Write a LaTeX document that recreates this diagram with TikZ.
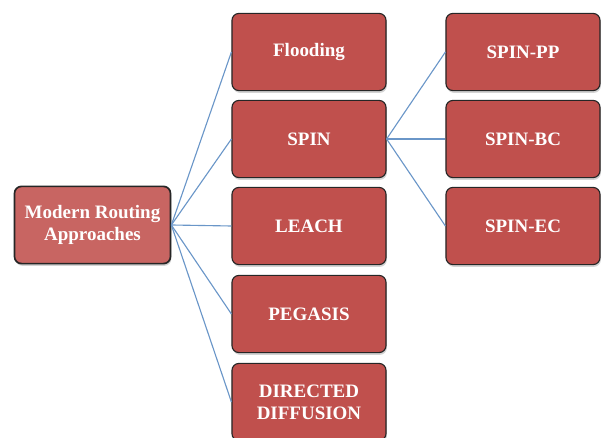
\documentclass[tikz,border=0pt]{standalone}
\usepackage{fontspec}
\setmainfont{Liberation Serif}
\usetikzlibrary{shadows}
\definecolor{boxred}{HTML}{C0504D}
\definecolor{linkblue}{HTML}{6A96C8}
\tikzset{
  rbox/.style={draw=black!85, line width=0.8pt, fill=boxred, rounded corners=5pt,
    minimum width=3.85cm, minimum height=1.93cm, text=white, align=center,
    font=\bfseries\fontsize{13.5}{15.5}\selectfont,
    drop shadow={shadow xshift=0.6pt, shadow yshift=-1.6pt, opacity=0.35}},
  link/.style={draw=linkblue, line width=0.8pt}
}
\begin{document}
\begin{tikzpicture}[x=0.025cm,y=-0.025cm]
\useasboundingbox (0,0) rectangle (601,438); % khung hinh
% Goc
\node[rbox, line width=1.2pt, fill=boxred!88!white, minimum width=3.9cm] (root) at (92.5,225) {Modern Routing\\Approaches};
% Cot giua
\node[rbox] (flood) at (309,52) {Flooding};
\node[rbox] (spin) at (309,139) {SPIN};
\node[rbox] (leach) at (309,226) {LEACH};
\node[rbox] (pegasis) at (309,314) {PEGASIS};
\node[rbox] (dd) at (309,402) {DIRECTED\\DIFFUSION};
% Cot phai
\node[rbox] (spinpp) at (523,52) {SPIN-PP};
\node[rbox] (spinbc) at (523,139) {SPIN-BC};
\node[rbox] (spinec) at (523,226) {SPIN-EC};
% Noi cac hop
\foreach \m in {flood,spin,leach,pegasis,dd}
\draw[link] (root.east)--(\m.west);
\foreach \r in {spinpp,spinbc,spinec}
\draw[link] (spin.east)--(\r.west);
\end{tikzpicture}
\end{document}
